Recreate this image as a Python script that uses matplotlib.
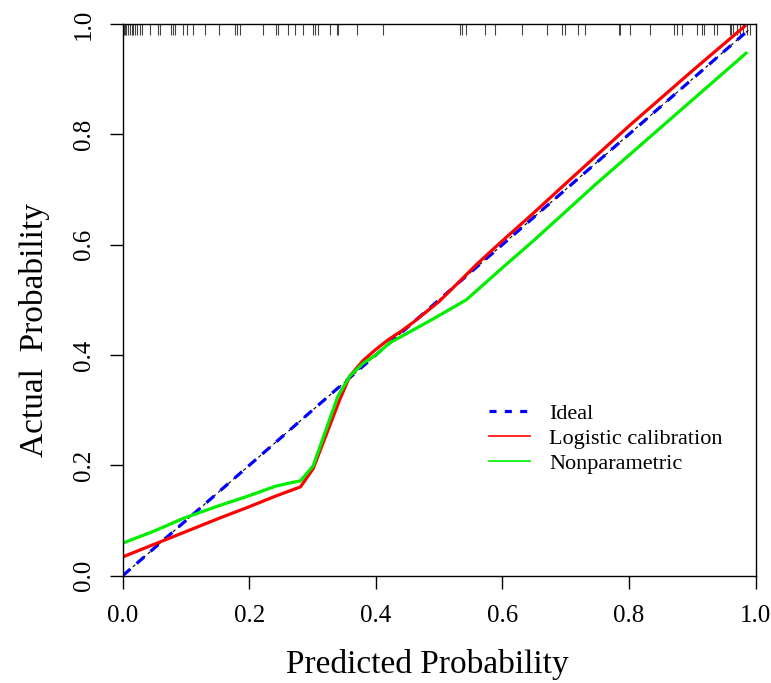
import numpy as np
import matplotlib
matplotlib.use('Agg')
import matplotlib.pyplot as plt
from matplotlib.lines import Line2D

plt.rcParams['font.family'] = ['Liberation Serif', 'DejaVu Serif']

# calibration curves
logistic_x = [0.0, 0.05, 0.10, 0.15, 0.20, 0.241, 0.281, 0.301, 0.343, 0.359, 0.38, 0.40, 0.42,
              0.44, 0.46, 0.50, 0.532, 0.56, 0.60, 0.648, 0.706, 0.80, 0.90, 0.983]
logistic_y = [0.034, 0.057, 0.080, 0.103, 0.125, 0.144, 0.161, 0.194, 0.319, 0.362, 0.39, 0.41, 0.428,
              0.443, 0.46, 0.497, 0.533, 0.565, 0.607, 0.656, 0.717, 0.815, 0.915, 0.996]
nonpar_x = [0.0, 0.05, 0.096, 0.15, 0.20, 0.241, 0.26, 0.281, 0.301, 0.340, 0.359, 0.38, 0.40, 0.422,
            0.46, 0.49, 0.543, 0.596, 0.65, 0.748, 0.85, 0.985]
nonpar_y = [0.059, 0.081, 0.104, 0.126, 0.145, 0.162, 0.167, 0.172, 0.199, 0.325, 0.362, 0.385, 0.40, 0.422,
            0.446, 0.465, 0.50, 0.554, 0.608, 0.71, 0.812, 0.947]
ideal_x = [0.0, 0.99]
ideal_y = [0.0, 0.99]

# predicted probabilities shown as rug at the top
rug = [0.0, 0.001, 0.002, 0.003, 0.006, 0.008, 0.011, 0.014, 0.016, 0.019, 0.022, 0.027, 0.030,
       0.043, 0.056, 0.059, 0.077, 0.080, 0.082, 0.095, 0.101, 0.111, 0.130, 0.153, 0.177, 0.180,
       0.185, 0.222, 0.243, 0.246, 0.262, 0.272, 0.285, 0.301, 0.304, 0.309, 0.328, 0.338, 0.341,
       0.370, 0.412, 0.533, 0.536, 0.542, 0.573, 0.589, 0.631, 0.670, 0.694, 0.699, 0.719, 0.731,
       0.784, 0.786, 0.801, 0.834, 0.871, 0.876, 0.884, 0.908, 0.916, 0.918, 0.934, 0.939, 0.960,
       0.962, 0.965, 0.971, 0.976, 0.981, 0.987, 0.992]

xticks = [0.0, 0.2, 0.4, 0.6, 0.8, 1.0]
yticks = [0.0, 0.2, 0.4, 0.6, 0.8, 1.0]

fig = plt.figure(figsize=(7.71, 6.83), dpi=100)
ax = fig.add_axes([0.1591, 0.1571, 0.8208, 0.8078])

ax.vlines(rug, 0.98, 1.0, color='#444444', lw=0.8)
ax.plot(ideal_x, ideal_y, color='black', lw=0.8, dashes=(3, 3))
ax.plot(ideal_x, ideal_y, color='#0000FF', lw=2.3, dashes=(3.2, 2.6))
ax.plot(logistic_x, logistic_y, color='#FF0000', lw=2.3)
ax.plot(nonpar_x, nonpar_y, color='#00EE00', lw=2.3)

ax.set_xlim(0, 1)
ax.set_ylim(0, 1)
ax.set_xticks(xticks)
ax.set_yticks(yticks)
ax.set_xticklabels(['%.1f' % v for v in xticks], fontsize=18)
ax.set_yticklabels(['%.1f' % v for v in yticks], fontsize=18, rotation=90, va='center')
ax.tick_params(axis='x', length=9.7, width=1, pad=11.5, direction='out')
ax.tick_params(axis='y', length=9.7, width=1, pad=10.5, direction='out')
for s in ax.spines.values():
    s.set_linewidth(1.0)

fig.text(427 / 771, 1 - 664 / 683, 'Predicted Probability', fontsize=24, ha='center', va='center')
fig.text(35 / 771, 1 - 330 / 683, 'Actual  Probability', fontsize=24, ha='center', va='center',
         rotation=90)

handles = [Line2D([], [], color='#0000FF', lw=2.3, dashes=(2.2, 2.6)),
           Line2D([], [], color='#FF0000', lw=1.2),
           Line2D([], [], color='#00EE00', lw=1.2)]
ax.legend(handles, ['Ideal', 'Logistic calibration', 'Nonparametric'], loc='upper left',
          bbox_to_anchor=(0.5793, 0.313), frameon=False, fontsize=16, borderpad=0,
          borderaxespad=0, handlelength=1.83, handletextpad=0.87, labelspacing=0.2)

fig.savefig('out.png', dpi=100)
